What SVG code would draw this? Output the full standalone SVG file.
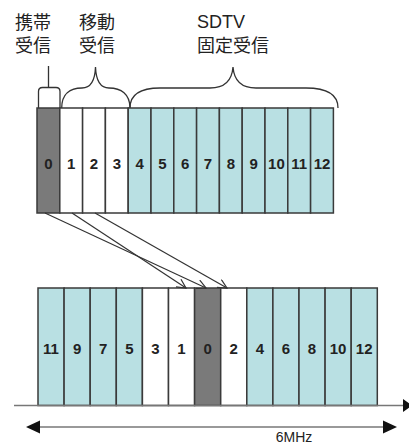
<svg xmlns="http://www.w3.org/2000/svg" width="409" height="446" viewBox="0 0 409 446">
<style>
.c{stroke:#3a3a3a;stroke-width:1.5}
.t{fill:#b9e0e3}
.w{fill:#ffffff}
.g{fill:#7a7a7a}
.n{font-family:"Liberation Sans",Arial,sans-serif;font-weight:bold;font-size:15px;fill:#222;text-anchor:middle}
.lab{font-family:"Liberation Sans","Noto Sans CJK JP",sans-serif;font-size:18px;fill:#222}
.br{fill:none;stroke:#333;stroke-width:1.3}
.cn{fill:none;stroke:#333;stroke-width:1.2}
</style>
<defs>
<marker id="ah" markerUnits="userSpaceOnUse" markerWidth="12" markerHeight="12" refX="10" refY="5" orient="auto">
<path d="M1,0.5 L10,5 L1,9.5" fill="none" stroke="#333" stroke-width="1.2"/>
</marker>
</defs>
<rect width="409" height="446" fill="#ffffff"/>
<g id="labels">
<text class="lab" x="15" y="29">携帯</text>
<text class="lab" x="15" y="52">受信</text>
<text class="lab" x="79" y="29">移動</text>
<text class="lab" x="79" y="52">受信</text>
<text class="lab" x="197" y="28">SDTV</text>
<text class="lab" x="197" y="52">固定受信</text>
</g>
<g id="braces">
<path class="br" d="M48.5,66 L48.5,87.5 M38.5,108 L38.5,91.5 Q38.5,87.5 42.5,87.5 L56,87.5 Q60,87.5 60,91.5 L60,108"/>
<path class="br" d="M61.7,108 C61.7,94 70,88 82,88 C91,88 95,80 95.5,67 C96,80 100,88 109,88 C121,88 130,94 130,108"/>
<path class="br" d="M130,108 C130,94 140,88 160,88 L210,88 C226,88 232,80 233,67 C234,80 240,88 256,88 L306,88 C326,88 338,94 338,108"/>
</g>
<g id="top-row">
<g id="top-0"><rect class="c g" x="37" y="108" width="22.8" height="105"/><text class="n" x="48.4" y="169">0</text></g>
<g id="top-1"><rect class="c w" x="59.8" y="108" width="22.8" height="105"/><text class="n" x="71.2" y="169">1</text></g>
<g id="top-2"><rect class="c w" x="82.6" y="108" width="22.8" height="105"/><text class="n" x="94" y="169">2</text></g>
<g id="top-3"><rect class="c w" x="105.4" y="108" width="22.8" height="105"/><text class="n" x="116.8" y="169">3</text></g>
<g id="top-4"><rect class="c t" x="128.2" y="108" width="22.8" height="105"/><text class="n" x="139.6" y="169">4</text></g>
<g id="top-5"><rect class="c t" x="151" y="108" width="22.8" height="105"/><text class="n" x="162.4" y="169">5</text></g>
<g id="top-6"><rect class="c t" x="173.8" y="108" width="22.8" height="105"/><text class="n" x="185.2" y="169">6</text></g>
<g id="top-7"><rect class="c t" x="196.6" y="108" width="22.8" height="105"/><text class="n" x="208" y="169">7</text></g>
<g id="top-8"><rect class="c t" x="219.4" y="108" width="22.8" height="105"/><text class="n" x="230.8" y="169">8</text></g>
<g id="top-9"><rect class="c t" x="242.2" y="108" width="22.8" height="105"/><text class="n" x="253.6" y="169">9</text></g>
<g id="top-10"><rect class="c t" x="265" y="108" width="22.8" height="105"/><text class="n" x="276.4" y="169">10</text></g>
<g id="top-11"><rect class="c t" x="287.8" y="108" width="22.8" height="105"/><text class="n" x="299.2" y="169">11</text></g>
<g id="top-12"><rect class="c t" x="310.6" y="108" width="22.8" height="105"/><text class="n" x="322" y="169">12</text></g>
</g>
<g id="bottom-row">
<g id="bot-11"><rect class="c t" x="38" y="288" width="26.1" height="117.5"/><text class="n" x="51" y="354">11</text></g>
<g id="bot-9"><rect class="c t" x="64.1" y="288" width="26.1" height="117.5"/><text class="n" x="77.1" y="354">9</text></g>
<g id="bot-7"><rect class="c t" x="90.2" y="288" width="26.1" height="117.5"/><text class="n" x="103.2" y="354">7</text></g>
<g id="bot-5"><rect class="c t" x="116.3" y="288" width="26.1" height="117.5"/><text class="n" x="129.3" y="354">5</text></g>
<g id="bot-3"><rect class="c w" x="142.4" y="288" width="26.1" height="117.5"/><text class="n" x="155.4" y="354">3</text></g>
<g id="bot-1"><rect class="c w" x="168.5" y="288" width="26.1" height="117.5"/><text class="n" x="181.5" y="354">1</text></g>
<g id="bot-0"><rect class="c g" x="194.6" y="288" width="26.1" height="117.5"/><text class="n" x="207.6" y="354">0</text></g>
<g id="bot-2"><rect class="c w" x="220.7" y="288" width="26.1" height="117.5"/><text class="n" x="233.7" y="354">2</text></g>
<g id="bot-4"><rect class="c t" x="246.8" y="288" width="26.1" height="117.5"/><text class="n" x="259.8" y="354">4</text></g>
<g id="bot-6"><rect class="c t" x="272.9" y="288" width="26.1" height="117.5"/><text class="n" x="285.9" y="354">6</text></g>
<g id="bot-8"><rect class="c t" x="299" y="288" width="26.1" height="117.5"/><text class="n" x="312" y="354">8</text></g>
<g id="bot-10"><rect class="c t" x="325.1" y="288" width="26.1" height="117.5"/><text class="n" x="338.1" y="354">10</text></g>
<g id="bot-12"><rect class="c t" x="351.2" y="288" width="26.1" height="117.5"/><text class="n" x="364.2" y="354">12</text></g>
</g>
<g id="connectors">
<line class="cn" x1="45" y1="213" x2="206" y2="288" marker-end="url(#ah)"/>
<line class="cn" x1="72" y1="213" x2="186" y2="288" marker-end="url(#ah)"/>
<line class="cn" x1="95" y1="213" x2="227" y2="288" marker-end="url(#ah)"/>
</g>
<g id="axis">
<line x1="14" y1="405.5" x2="404" y2="405.5" stroke="#777" stroke-width="1.5"/>
<polygon points="403,399 412,405.5 403,412" fill="#111"/>
<line x1="38" y1="427" x2="385" y2="427" stroke="#777" stroke-width="1.3"/>
<polygon points="26,427 40,420.5 40,433.5" fill="#111"/>
<polygon points="397,427 383,420.5 383,433.5" fill="#111"/>
<text x="294" y="442" font-family="Liberation Sans,Arial,sans-serif" font-size="14" fill="#222" text-anchor="middle">6MHz</text>
</g>
</svg>
